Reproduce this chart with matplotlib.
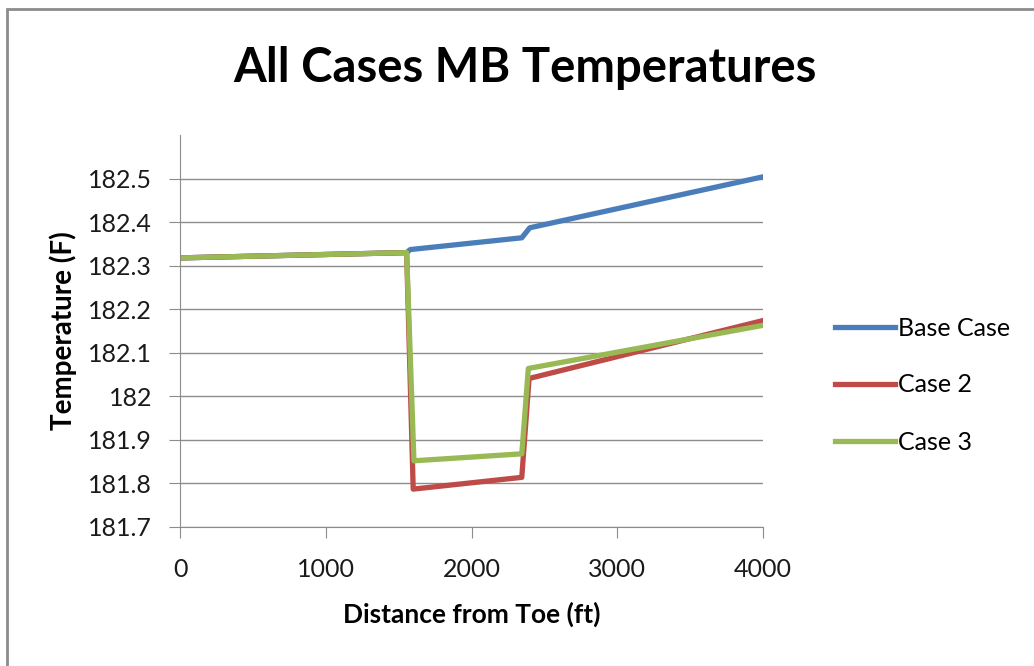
import matplotlib
matplotlib.use("Agg")
import matplotlib.pyplot as plt
from matplotlib.patches import Rectangle

# values
x_base = [20, 1555, 1580, 2345, 2400, 4000]
base_case = [182.318, 182.330, 182.337, 182.364, 182.387, 182.504]

x_case2 = [20, 1555, 1600, 2345, 2395, 4000]
case2 = [182.318, 182.330, 181.787, 181.814, 182.041, 182.174]

x_case3 = [20, 1555, 1605, 2345, 2390, 4000]
case3 = [182.318, 182.330, 181.852, 181.868, 182.064, 182.163]

x_ticks = [0, 1000, 2000, 3000, 4000]
y_ticks = [181.7, 181.8, 181.9, 182.0, 182.1, 182.2, 182.3, 182.4, 182.5]
y_labels = ["181.7", "181.8", "181.9", "182", "182.1", "182.2", "182.3", "182.4", "182.5"]

plt.rcParams['font.family'] = ['Lato', 'DejaVu Sans']

fig = plt.figure(figsize=(10.34, 6.66), dpi=100)
ax = fig.add_axes([180/1034, 1-527/666, (763-180)/1034, (527-135)/666])

# chart border (cut off on right and bottom like the screenshot)
fig.patches.append(Rectangle((7/1034, -0.1), 1.2, 1-9/666+0.1, transform=fig.transFigure,
                             fill=False, edgecolor="#8c8c8c", linewidth=2))

ax.plot(x_base, base_case, color="#4a7ebb", lw=3.8, label="Base Case", solid_joinstyle="round")
ax.plot(x_case2, case2, color="#be4b48", lw=3.8, label="Case 2", solid_joinstyle="round")
ax.plot(x_case3, case3, color="#98b954", lw=3.8, label="Case 3", solid_joinstyle="round")

ax.set_xlim(0, 4000)
ax.set_ylim(181.7, 182.6)
ax.set_xticks(x_ticks)
ax.set_yticks(y_ticks)
ax.set_yticklabels(y_labels)
ax.yaxis.grid(True, color="#8c8c8c", lw=1)
ax.set_axisbelow(True)
for s in ["top", "right"]:
    ax.spines[s].set_visible(False)
for s in ["left", "bottom"]:
    ax.spines[s].set_color("#8c8c8c")
ax.tick_params(axis="both", direction="out", length=8, color="#8c8c8c", labelsize=18, labelcolor="#1a1a1a")
ax.tick_params(axis="y", pad=12)
ax.tick_params(axis="x", pad=14)

ax.set_xlabel("Distance from Toe (ft)", fontsize=19, fontweight="bold", labelpad=15)
ax.set_ylabel("Temperature (F)", fontsize=20, fontweight="bold", labelpad=8)
fig.text(525/1034, 1-68/666, "All Cases MB Temperatures", fontsize=34, fontweight="bold",
         ha="center", va="center")

fig.legend(loc="center left", bbox_to_anchor=(835/1034, 1-385/666), frameon=False,
           fontsize=18, handlelength=2.4, handletextpad=0.1, labelspacing=1.36,
           borderpad=0, borderaxespad=0)

fig.savefig("out.png", dpi=100, facecolor="white")
